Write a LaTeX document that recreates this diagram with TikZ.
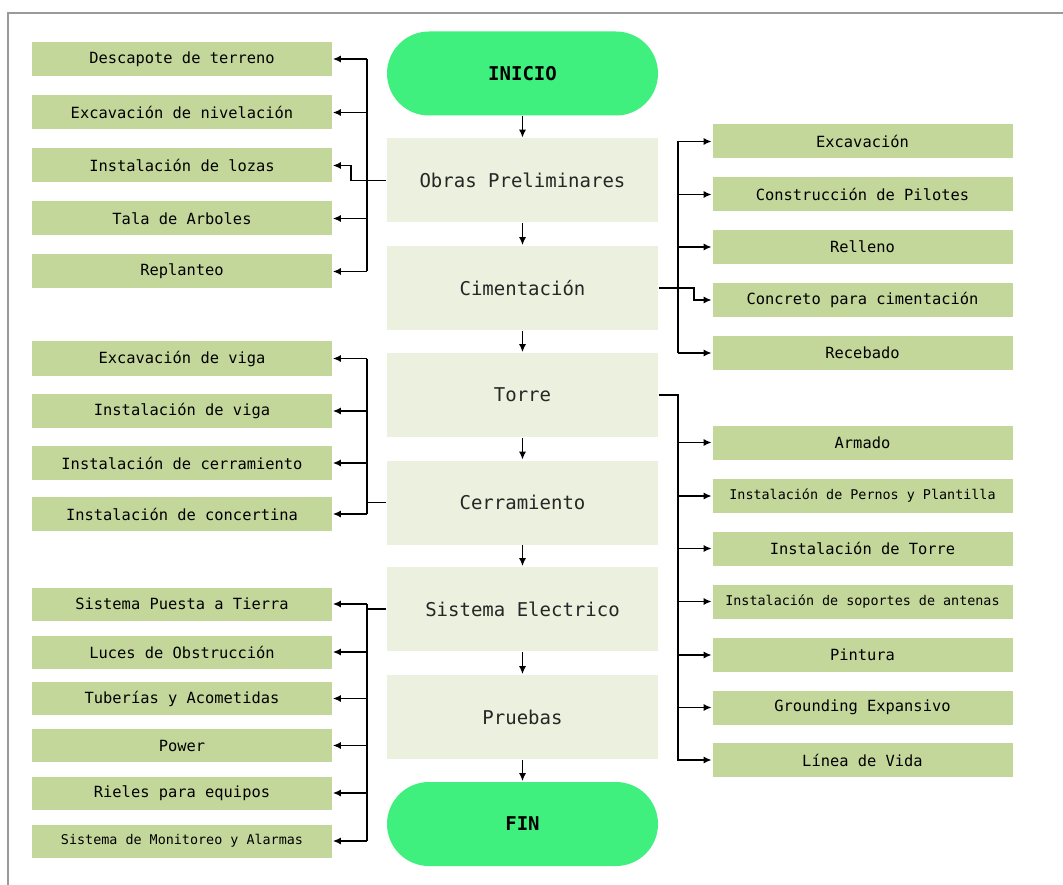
\documentclass[tikz,border=0pt]{standalone}
\usepackage{fontspec}
\setmonofont{DejaVu Sans Mono}
\usepackage{xcolor}
\usepackage{tikz}
\usetikzlibrary{calc, arrows.meta}

\definecolor{taskgreen}{HTML}{C4D79B}
\definecolor{phasegreen}{HTML}{EBF1DE}
\definecolor{termgreen}{HTML}{3FF07E}
\definecolor{framegray}{HTML}{9A9A9A}

\tikzset{
	task/.style = {fill=taskgreen, minimum width=300pt, minimum height=34pt, inner sep=0pt, text=black, font=\ttfamily\fontsize{15.4}{17}\selectfont},
	smalltask/.style = {task, font=\ttfamily\fontsize{13.4}{15}\selectfont},
	phase/.style = {fill=phasegreen, minimum width=271pt, minimum height=84pt, inner sep=0pt, text=black!85, font=\ttfamily\fontsize{19}{21}\selectfont},
	terminal/.style = {phase, fill=termgreen, rounded corners=42pt, text=black, font=\ttfamily\bfseries\fontsize{19}{21}\selectfont},
}

\begin{document}
\begin{tikzpicture}[x=1pt, y=-1pt, line width=1.6pt, >={Latex[length=8pt,width=7pt]}]
		%definition of frame and bounding box
		\useasboundingbox (0,0) rectangle (1063,885);
		\draw [framegray, line width=1.5pt] (8,885) -- (8,13) -- (1063,13);
		
		%definition of columns
		\def\xL{182};
		\def\xC{522.5};
		\def\xR{862.5};
		
		%definition of buses
		\coordinate (busL) at (367,0);
		\coordinate (busR) at (678,0);
		
		%main flow
		\node [terminal] (ini) at (\xC,73.5) {INICIO};
		\node [phase] (obr) at (\xC,180.5) {Obras Preliminares};
		\node [phase] (cim) at (\xC,288) {Cimentación};
		\node [phase] (tor) at (\xC,395) {Torre};
		\node [phase] (cer) at (\xC,502.5) {Cerramiento};
		\node [phase] (sel) at (\xC,609) {Sistema Electrico};
		\node [phase] (pru) at (\xC,717) {Pruebas};
		\node [terminal] (fin) at (\xC,824) {FIN};
		
		\draw [->] (ini) -- (obr);
		\draw [->] (obr) -- (cim);
		\draw [->] (cim) -- (tor);
		\draw [->] (tor) -- (cer);
		\draw [->] (cer) -- (sel);
		\draw [->] (sel) -- (pru);
		\draw [->] (pru) -- (fin);
		
		%obras preliminares
		\node [task] (des) at (\xL,59) {Descapote de terreno};
		\node [task] (exn) at (\xL,112.5) {Excavación de nivelación};
		\node [task] (loz) at (\xL,165.5) {Instalación de lozas};
		\node [task] (tal) at (\xL,218.5) {Tala de Arboles};
		\node [task] (rep) at (\xL,271.5) {Replanteo};
		
		\draw [->] (obr.west) -- ++(-35,0) |- (loz.east);
		\draw (busL |- des.east) -- (busL |- rep.east);
		\draw [->] (busL |- des.east) -- (des.east);
		\draw [->] (busL |- exn.east) -- (exn.east);
		\draw [->] (busL |- tal.east) -- (tal.east);
		\draw [->] (busL |- rep.east) -- (rep.east);
		
		%cimentacion
		\node [task] (exc) at (\xR,141.5) {Excavación};
		\node [task] (pil) at (\xR,194.5) {Construcción de Pilotes};
		\node [task] (rel) at (\xR,247) {Relleno};
		\node [task] (con) at (\xR,300) {Concreto para cimentación};
		\node [task] (reb) at (\xR,353) {Recebado};
		
		\draw [->] (cim.east) -- ++(35,0) |- (con.west);
		\draw (busR |- exc.west) -- (busR |- reb.west);
		\draw [->] (busR |- exc.west) -- (exc.west);
		\draw [->] (busR |- pil.west) -- (pil.west);
		\draw [->] (busR |- rel.west) -- (rel.west);
		\draw [->] (busR |- reb.west) -- (reb.west);
		
		%torre
		\node [task] (arm) at (\xR,442.5) {Armado};
		\node [smalltask] (per) at (\xR,496) {Instalación de Pernos y Plantilla};
		\node [task] (ito) at (\xR,548.5) {Instalación de Torre};
		\node [smalltask] (sop) at (\xR,601.5) {Instalación de soportes de antenas};
		\node [task] (pin) at (\xR,655) {Pintura};
		\node [task] (gro) at (\xR,707.5) {Grounding Expansivo};
		\node [task] (lin) at (\xR,760) {Línea de Vida};
		
		\draw [->] (tor.east) -| (busR |- lin.west) -- (lin.west);
		\draw [->] (busR |- arm.west) -- (arm.west);
		\draw [->] (busR |- per.west) -- (per.west);
		\draw [->] (busR |- ito.west) -- (ito.west);
		\draw [->] (busR |- sop.west) -- (sop.west);
		\draw [->] (busR |- pin.west) -- (pin.west);
		\draw [->] (busR |- gro.west) -- (gro.west);
		
		%cerramiento
		\node [task] (exv) at (\xL,358.5) {Excavación de viga};
		\node [task] (inv) at (\xL,411) {Instalación de viga};
		\node [task] (ice) at (\xL,463) {Instalación de cerramiento};
		\node [task] (ico) at (\xL,514) {Instalación de concertina};
		
		\draw (cer.west) -- (cer.west -| busL);
		\draw (busL |- exv.east) -- (busL |- ico.east);
		\draw [->] (busL |- exv.east) -- (exv.east);
		\draw [->] (busL |- inv.east) -- (inv.east);
		\draw [->] (busL |- ice.east) -- (ice.east);
		\draw [->] (busL |- ico.east) -- (ico.east);
		
		%sistema electrico
		\node [task, minimum height=33pt] (spt) at (\xL,604) {Sistema Puesta a Tierra};
		\node [task, minimum height=33pt] (luc) at (\xL,652) {Luces de Obstrucción};
		\node [task, minimum height=33pt] (tub) at (\xL,698.5) {Tuberías y Acometidas};
		\node [task, minimum height=33pt] (pow) at (\xL,745.5) {Power};
		\node [task, minimum height=33pt] (rie) at (\xL,793) {Rieles para equipos};
		\node [smalltask, minimum height=33pt] (mon) at (\xL,841) {Sistema de Monitoreo y Alarmas};
		
		\draw (sel.west) -- (sel.west -| busL);
		\draw (busL |- spt.east) -- (busL |- mon.east);
		\draw [->] (busL |- spt.east) -- (spt.east);
		\draw [->] (busL |- luc.east) -- (luc.east);
		\draw [->] (busL |- tub.east) -- (tub.east);
		\draw [->] (busL |- pow.east) -- (pow.east);
		\draw [->] (busL |- rie.east) -- (rie.east);
		\draw [->] (busL |- mon.east) -- (mon.east);
		
	\end{tikzpicture}
\end{document}
